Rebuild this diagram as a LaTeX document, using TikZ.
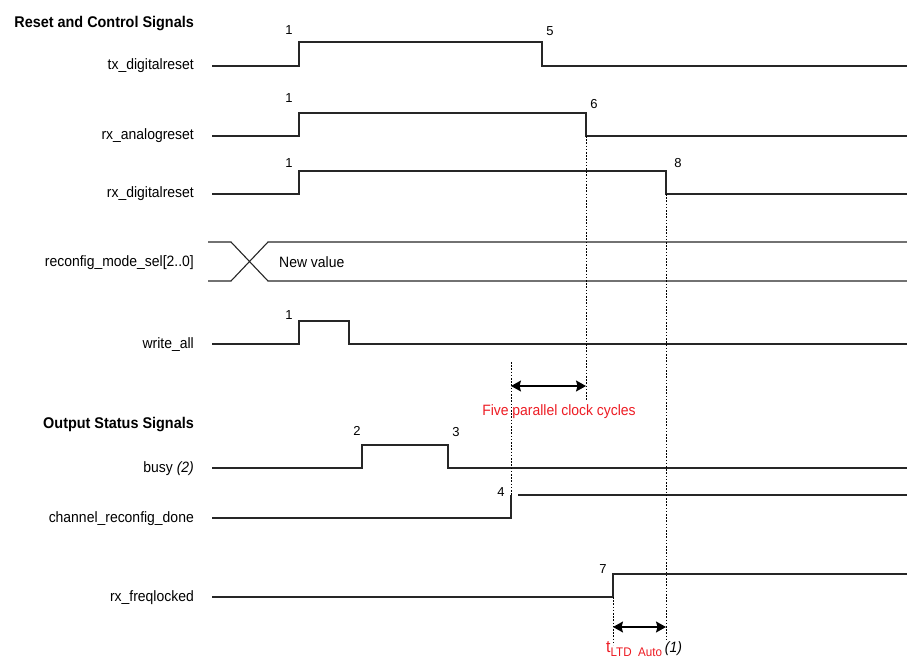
\documentclass[tikz,border=0pt]{standalone}
\usepackage{fontspec}
\setmainfont{Liberation Sans}[FakeStretch=0.93]
\newfontfamily\numfont{Liberation Sans}
\usetikzlibrary{arrows.meta}
\definecolor{sigred}{RGB}{237,28,36}
\tikzset{
  wave/.style={line width=1.1pt, draw=black!85},
  dots/.style={dash pattern=on 1.6pt off 1.6pt, line width=1pt, draw=black},
  span/.style={line width=1.1pt, {Stealth[width=11pt,length=10pt,inset=1.5pt]}-{Stealth[width=11pt,length=10pt,inset=1.5pt]}},
  siglabel/.style={anchor=base east, inner sep=0pt, font=\fontsize{15}{16}\selectfont},
  head/.style={anchor=base east, inner sep=0pt, font=\fontsize{15.5}{16}\selectfont\bfseries},
  num/.style={anchor=base, inner sep=0pt, font=\numfont\fontsize{13}{14}\selectfont},
  note/.style={anchor=base, inner sep=0pt, font=\fontsize{15}{16}\selectfont, text=sigred}
}
\begin{document}
\begin{tikzpicture}[x=1pt,y=-1pt]
\useasboundingbox (0,0) rectangle (907,660);
% headings
\node[head] (h1) at (194,28) {Reset and Control Signals};
\node[head] (h2) at (194,428) {Output Status Signals};
% signal labels
\node[siglabel] (l1) at (194,70) {tx\_digitalreset};
\node[siglabel] (l2) at (194,140) {rx\_analogreset};
\node[siglabel] (l3) at (194,198) {rx\_digitalreset};
\node[siglabel] (l4) at (194,266) {reconfig\_mode\_sel[2..0]};
\node[siglabel] (l5) at (194,348) {write\_all};
\node[siglabel] (l6) at (194,472) {busy \textit{(2)}};
\node[siglabel] (l7) at (194,522) {channel\_reconfig\_done};
\node[siglabel] (l8) at (194,601) {rx\_freqlocked};
% waveforms
\draw[wave] (212,66) -- (299,66) -- (299,42) -- (542,42) -- (542,66) -- (907,66);
\draw[wave] (212,136) -- (299,136) -- (299,113) -- (586,113) -- (586,136) -- (907,136);
\draw[wave] (212,194) -- (299,194) -- (299,171) -- (666,171) -- (666,194) -- (907,194);
\draw[wave] (208,242) -- (231,242) -- (268,281) -- (907,281);
\draw[wave] (208,281) -- (231,281) -- (268,242) -- (907,242);
\node[anchor=base west, inner sep=0pt, font=\fontsize{15}{16}\selectfont] (nv) at (279,268) {New value};
\draw[wave] (212,344) -- (299,344) -- (299,321) -- (349,321) -- (349,344) -- (907,344);
\draw[wave] (212,468) -- (362,468) -- (362,445) -- (448,445) -- (448,468) -- (907,468);
\draw[wave] (212,518) -- (511,518) -- (511,495);
\draw[wave] (518,495) -- (907,495);
\draw[wave] (212,597) -- (613,597) -- (613,574) -- (907,574);
% edge numbers
\node[num] (n1a) at (289,35) {1};
\node[num] (n5) at (550,36) {5};
\node[num] (n1b) at (289,103) {1};
\node[num] (n6) at (594,109) {6};
\node[num] (n1c) at (289,168) {1};
\node[num] (n8) at (678,168) {8};
\node[num] (n1d) at (289,319) {1};
\node[num] (n2) at (357,435) {2};
\node[num] (n3) at (456,436) {3};
\node[num] (n4) at (501,496) {4};
\node[num] (n7) at (603,573) {7};
% dotted guides
\coordinate (d6a) at (586,136); \coordinate (d6b) at (586,400);
\coordinate (d4a) at (511,362); \coordinate (d4b) at (511,495);
\coordinate (d8a) at (666,194); \coordinate (d8b) at (666,641);
\coordinate (d7a) at (613,597); \coordinate (d7b) at (613,645);
\draw[dots] (d6a) -- (d6b);
\draw[dots] (d4a) -- (d4b);
\draw[dots] (d8a) -- (d8b);
\draw[dots] (d7a) -- (d7b);
% spans
\coordinate (a1) at (511,386); \coordinate (a2) at (586,386);
\draw[span] (a1) -- (a2);
\node[note] (five) at (559,415) {Five parallel clock cycles};
\coordinate (b1) at (613,627); \coordinate (b2) at (666,627);
\draw[span] (b1) -- (b2);
\node[anchor=base west, inner sep=0pt, font=\fontsize{17}{18}\selectfont] (tltd) at (606,652) {\textcolor{sigred}{t\raisebox{-0.45ex}{\fontsize{12.5}{13}\selectfont LTD\ \ Auto}}\,\textit{\fontsize{15}{16}\selectfont(1)}};
\end{tikzpicture}
\end{document}
